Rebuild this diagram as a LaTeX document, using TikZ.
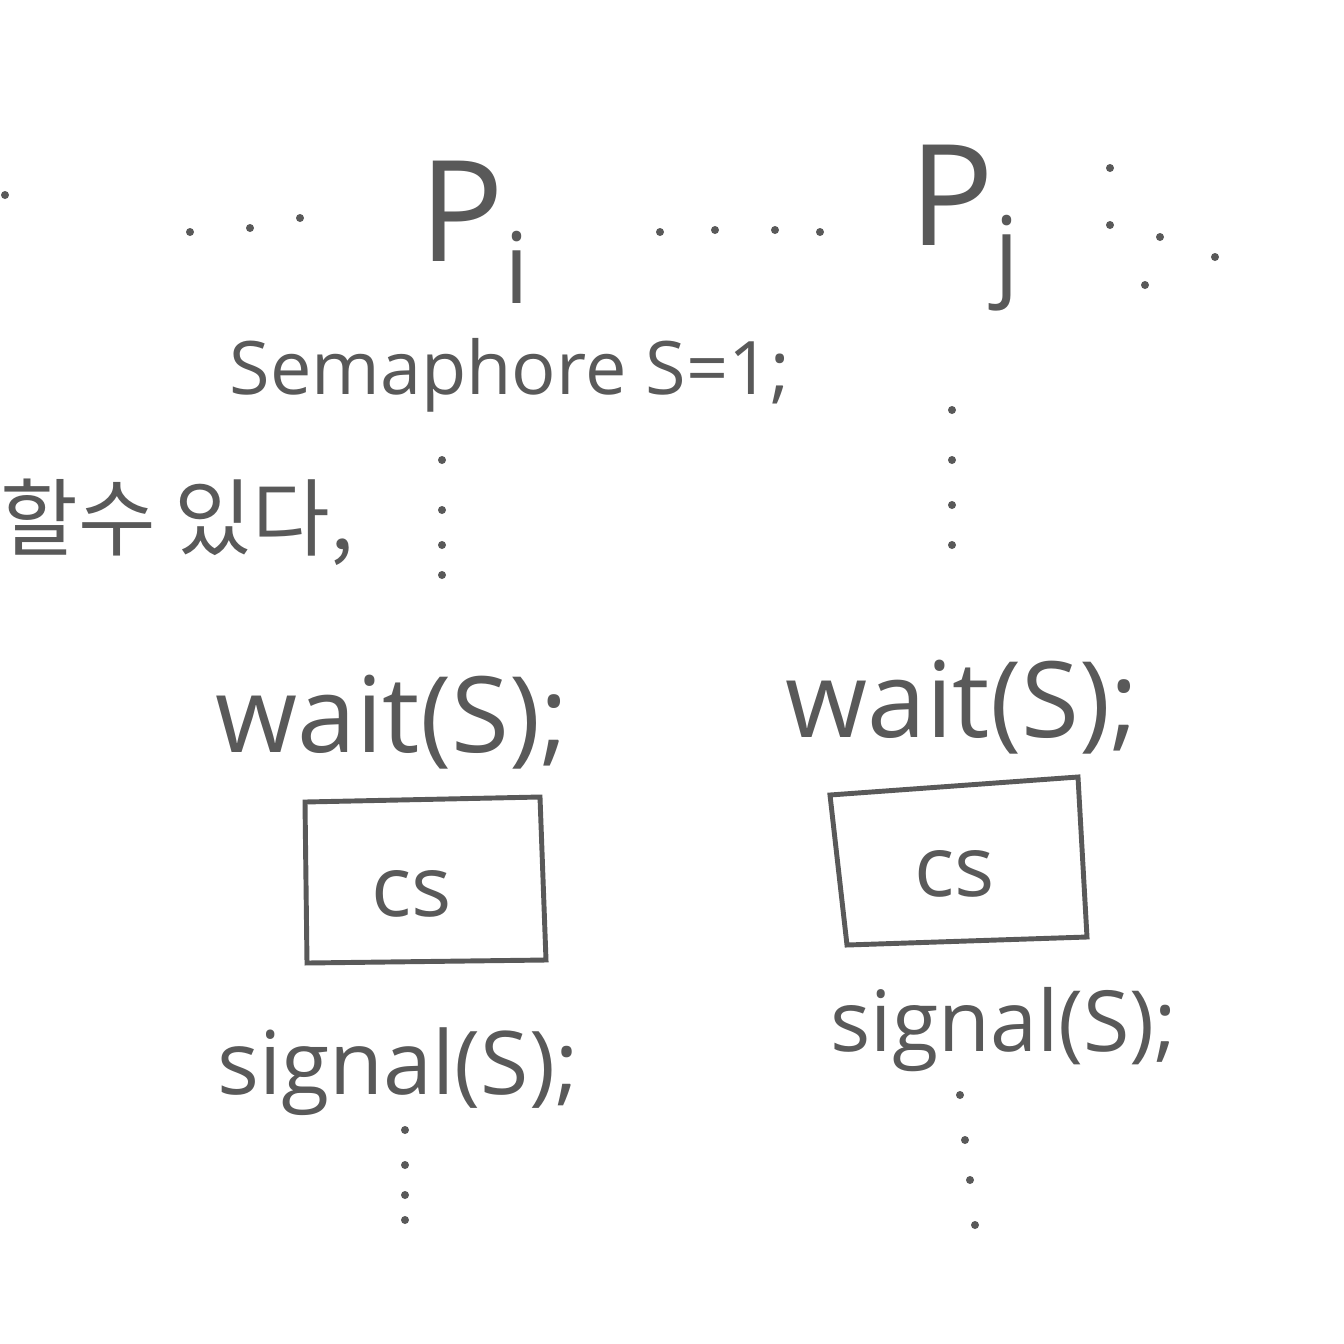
\documentclass[tikz,border=0pt]{standalone}
\usepackage{fontspec}
\setmainfont{Open Sans}
\newfontfamily\kofont{Noto Sans CJK KR}
\definecolor{pen}{gray}{0.35}

\begin{document}
\begin{tikzpicture}[x=0.01cm,y=-0.01cm,
    hand/.style={text=pen,inner sep=0pt,font=\fontsize{24}{28}\selectfont},
    head/.style={text=pen,inner sep=0pt,font=\fontsize{40}{46}\selectfont},
    dot/.style={fill=pen}]
\useasboundingbox[fill=white] (0,0) rectangle (1344,1344);
% process names
\node[head] (pi) at (475,232) {P\textsubscript{i}};
\node[head] (pj) at (965,228) {P\textsubscript{j}};
% dashes along the top line
\foreach \x/\y in {5/195,190/232,250/228,300/218,660/232,715/230,775/230,820/232,1110/168,1110/225,1160/237,1215/257,1145/285}
  \fill[dot] (\x,\y) circle (4);
% shared semaphore
\node[hand,font=\fontsize{21}{25}\selectfont] (sem) at (510,375) {Semaphore S=1;};
\node[hand,anchor=west,font=\kofont\fontsize{24}{28}\selectfont] (note) at (0,522) {할수 있다,};
% code of P_i
\foreach \y in {460,510,545,575}
  \fill[dot] (442,\y) circle (4);
\node[hand,font=\fontsize{30}{34}\selectfont] (waiti) at (392,722) {wait(S);};
\draw[pen,line width=1.4pt] (305,802) -- (540,797) -- (546,960) -- (307,963) -- cycle;
\node[hand] (csi) at (412,894) {cs};
\node[hand,font=\fontsize{25}{30}\selectfont] (sigi) at (398,1072) {signal(S);};
\foreach \y in {1130,1165,1195,1220}
  \fill[dot] (405,\y) circle (4);
% code of P_j
\foreach \y in {410,460,505,545}
  \fill[dot] (952,\y) circle (4);
\node[hand,font=\fontsize{30}{34}\selectfont] (waitj) at (962,707) {wait(S);};
\draw[pen,line width=1.4pt] (830,795) -- (1078,777) -- (1087,937) -- (847,945) -- cycle;
\node[hand] (csj) at (955,874) {cs};
\node[hand,font=\fontsize{24}{29}\selectfont] (sigj) at (1004,1030) {signal(S);};
\foreach \x/\y in {960/1095,965/1140,970/1180,975/1225}
  \fill[dot] (\x,\y) circle (4);
\end{tikzpicture}
\end{document}
